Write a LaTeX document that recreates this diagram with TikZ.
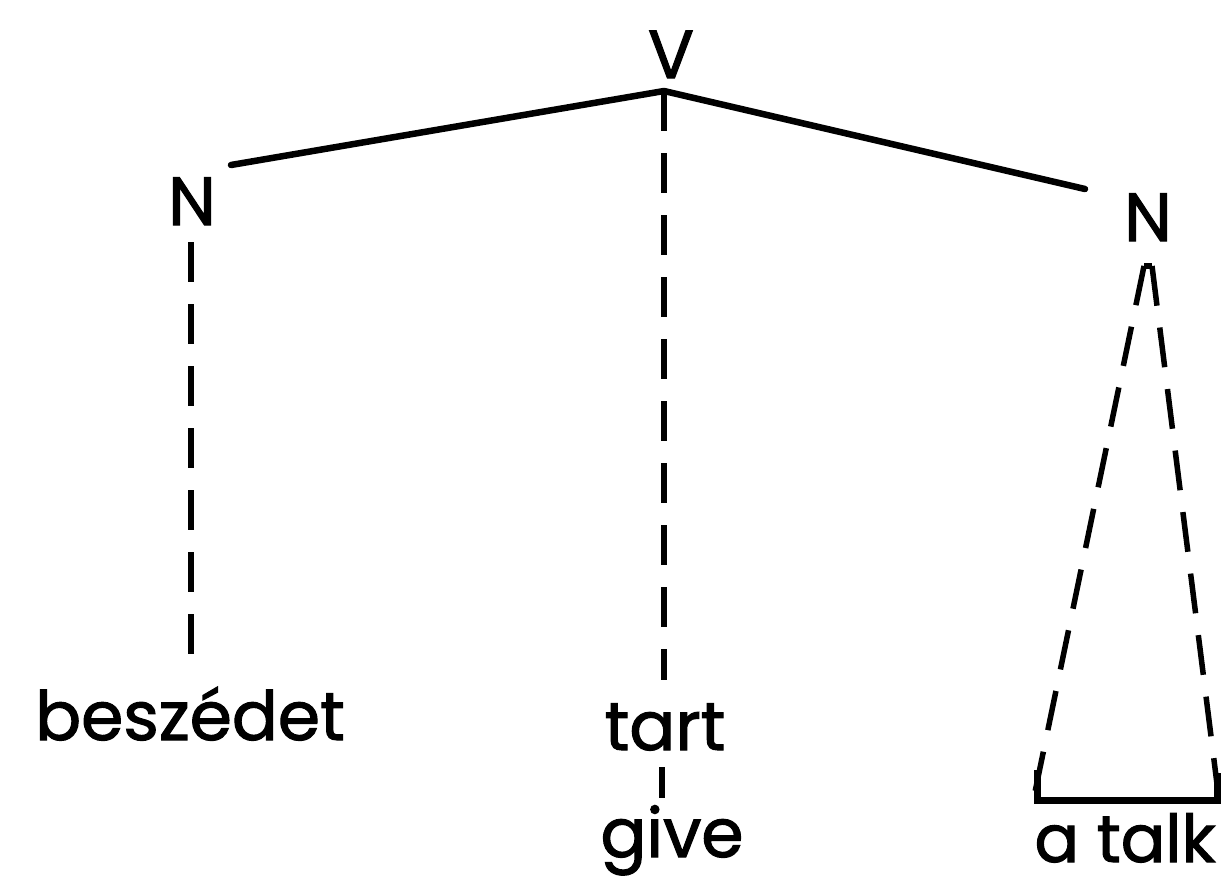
\documentclass[tikz,border=0pt]{standalone}
\usepackage{fontspec}
\newfontfamily\treefont[FakeBold=1.6]{Poppins}
\tikzset{
  lbl/.style={font=\treefont\fontsize{68}{72}\selectfont, inner sep=0pt, anchor=base},
  branch/.style={line width=6.5pt, line cap=round, line join=round},
  dline/.style={line width=5.5pt, dash pattern=on 40pt off 22pt},
}
\begin{document}
\begin{tikzpicture}[x=1pt,y=-1pt]
\useasboundingbox (0,0) rectangle (1225,876);
% labels
\node[lbl] (V) at (671,78) {V};
\node[lbl] (NL) at (192,225) {N};
\node[lbl] (NR) at (1148,241) {N};
\node[lbl] (besz) at (190,740) {beszédet};
\node[lbl] (tart) at (665,750) {tart};
\node[lbl] (give) at (672,857) {give};
\node[lbl, text depth=0pt, font=\treefont\fontsize{66}{70}\selectfont] (talk) at (1125,862) {a talk};
% coordinates
\coordinate (apex) at (664,91);
\coordinate (lend) at (231,165);
\coordinate (rend) at (1085,189);
\coordinate (ldtop) at (191,242);
\coordinate (ldbot) at (191,672);
\coordinate (cdbot) at (664,680);
\coordinate (gtop) at (662,767);
\coordinate (gbot) at (662,798);
\coordinate (tl) at (1144,266);
\coordinate (tr) at (1152,266);
\coordinate (bl) at (1035,792);
\coordinate (br) at (1218,792);
% solid branches
\draw[branch] (lend) -- (apex) -- (rend);
% dashed lines
\draw[dline] (ldtop) -- (ldbot);
\draw[dline] (apex) -- (cdbot);
\draw[line width=5.5pt] (gtop) -- (gbot);
\draw[line width=5.5pt] (tl) -- (tr);
\draw[dline] (tl) -- (bl);
\draw[dline] (tr) -- (br);
% bracket
\draw[line width=7pt, line join=miter] (1037,770) -- (1037,800) -- (1217,800) -- (1217,773);
\end{tikzpicture}
\end{document}
